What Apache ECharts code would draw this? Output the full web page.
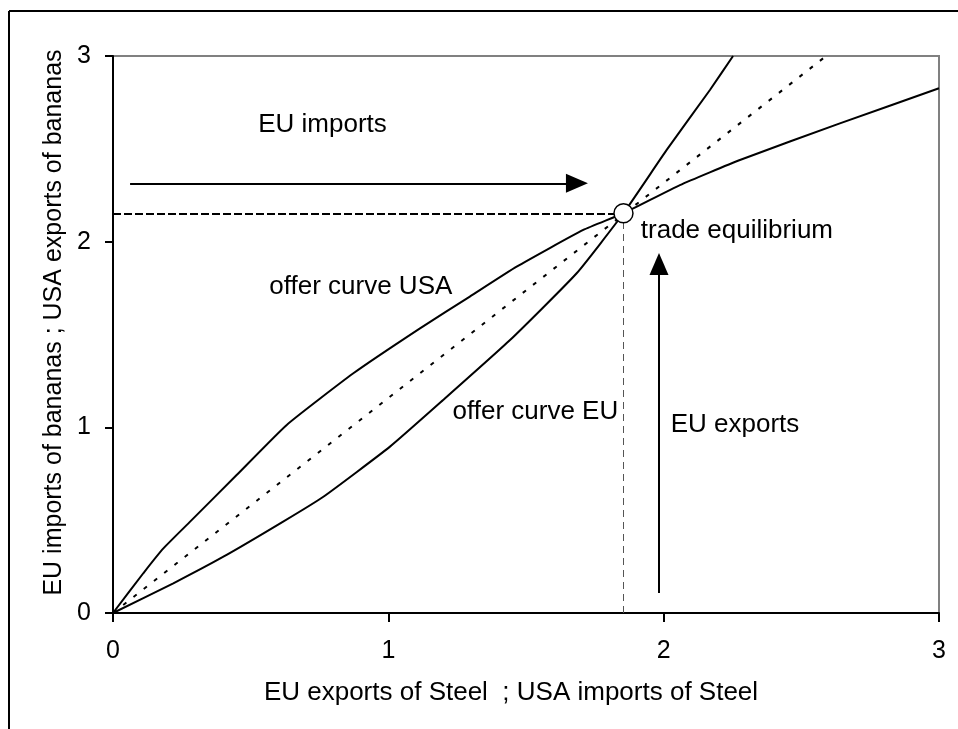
<!DOCTYPE html>
<html>
<head>
<meta charset="utf-8">
<script src="https://cdn.jsdelivr.net/npm/echarts@6/dist/echarts.min.js"></script>
<style>
  html, body { margin: 0; padding: 0; background: #fff; }
  #chart { width: 958px; height: 729px; }
</style>
</head>
<body>
<div id="chart"></div>
<script>
// offer curves (x = steel, y = bananas)
var usaX = [0, 0.110, 0.183, 0.280, 0.449, 0.631, 0.873, 1.115, 1.296, 1.466, 1.708, 1.854, 2.059, 2.277, 2.640, 3.0];
var usaY = [0, 0.214, 0.348, 0.492, 0.743, 1.013, 1.291, 1.533, 1.704, 1.865, 2.063, 2.153, 2.305, 2.440, 2.637, 2.826];

var euX = [0, 0.219, 0.401, 0.618, 0.764, 1.006, 1.199, 1.442, 1.684, 1.854, 2.011, 2.168, 2.252];
var euY = [0, 0.160, 0.303, 0.492, 0.626, 0.896, 1.147, 1.470, 1.830, 2.153, 2.494, 2.817, 3.0];

// terms of trade line (dotted)
var diagX = [0, 2.59];
var diagY = [0, 3];

// trade equilibrium
var eqPoint = [1.854, 2.153];

var ticks = [0, 1, 2, 3];

// annotation texts and where they sit
var noteText = ["EU imports", "offer curve USA", "offer curve EU", "trade equilibrium", "EU exports"];
var noteX = [0.761, 0.900, 1.534, 2.266, 2.259];
var noteY = [2.628, 1.756, 1.083, 2.057, 1.013];

// arrows: [x1, y1, x2, y2]
var importsArrow = [0.062, 2.314, 1.685, 2.314];
var exportsArrow = [1.983, 0.108, 1.983, 1.880];

function pairs(xs, ys) {
  return xs.map(function (x, i) { return [x, ys[i]]; });
}

var font = "'Liberation Sans', Arial, sans-serif";
var chart = echarts.init(document.getElementById("chart"));

var option = {
  backgroundColor: "#fff",
  animation: false,
  grid: {
    left: 113, top: 56, right: 19, bottom: 116,
    show: true, borderColor: "#808080", borderWidth: 2
  },
  xAxis: {
    type: "value", min: ticks[0], max: ticks[ticks.length - 1], interval: 1,
    name: "EU exports of Steel  ; USA imports of Steel",
    nameLocation: "middle", nameGap: 67,
    nameTextStyle: { color: "#000", fontSize: 26, fontFamily: font, padding: [0, 30, 0, 0] },
    axisLine: { lineStyle: { color: "#000", width: 2 } },
    axisTick: { length: 9, lineStyle: { color: "#000", width: 2 } },
    axisLabel: { color: "#000", fontSize: 25, fontFamily: font, margin: 26 },
    splitLine: { show: false }
  },
  yAxis: {
    type: "value", min: ticks[0], max: ticks[ticks.length - 1], interval: 1,
    name: "EU imports of bananas ; USA exports of bananas",
    nameLocation: "middle", nameGap: 46,
    nameTextStyle: { color: "#000", fontSize: 25, fontFamily: font, padding: [0, 0, 0, 24] },
    axisLine: { lineStyle: { color: "#000", width: 2 } },
    axisTick: { length: 8, lineStyle: { color: "#000", width: 2 } },
    axisLabel: { color: "#000", fontSize: 25, fontFamily: font, margin: 22 },
    splitLine: { show: false }
  },
  graphic: [
    // outer frame (only top and left show in the picture)
    { type: "line", shape: { x1: 9, y1: 11, x2: 958, y2: 11 }, style: { stroke: "#000", lineWidth: 2 } },
    { type: "line", shape: { x1: 9, y1: 11, x2: 9, y2: 729 }, style: { stroke: "#000", lineWidth: 2 } }
  ],
  series: [
    {
      name: "guides", type: "line", data: [], silent: true,
      markLine: {
        silent: true, symbol: "none", animation: false,
        label: { show: false },
        data: [
          [{ coord: [0, eqPoint[1]], lineStyle: { color: "#000", width: 2, type: [8, 3] } },
           { coord: [eqPoint[0], eqPoint[1]] }],
          [{ coord: [eqPoint[0], 0], lineStyle: { color: "#555", width: 1, type: [7, 5] } },
           { coord: [eqPoint[0], eqPoint[1]] }]
        ]
      }
    },
    {
      name: "terms of trade", type: "line", data: pairs(diagX, diagY),
      showSymbol: false, lineStyle: { color: "#000", width: 2, type: [4, 9] }
    },
    {
      name: "offer curve USA", type: "line", data: pairs(usaX, usaY),
      showSymbol: false, smooth: 0.15, lineStyle: { color: "#000", width: 2 }
    },
    {
      name: "offer curve EU", type: "line", data: pairs(euX, euY),
      showSymbol: false, smooth: 0.15, lineStyle: { color: "#000", width: 2 }
    },
    {
      name: "arrows", type: "line", data: [], silent: true,
      markLine: {
        silent: true, animation: false,
        symbol: ["none", "triangle"], symbolSize: [19, 22],
        label: { show: false },
        lineStyle: { color: "#000", width: 2, type: "solid" },
        itemStyle: { color: "#000" },
        data: [
          [{ coord: [importsArrow[0], importsArrow[1]] }, { coord: [importsArrow[2], importsArrow[3]] }],
          [{ coord: [exportsArrow[0], exportsArrow[1]] }, { coord: [exportsArrow[2], exportsArrow[3]] }]
        ]
      }
    },
    {
      name: "equilibrium", type: "scatter", data: [eqPoint], z: 5,
      symbol: "circle", symbolSize: 19,
      itemStyle: { color: "#fff", borderColor: "#000", borderWidth: 1.5, opacity: 1 }
    },
    {
      name: "notes", type: "scatter", silent: true, symbolSize: 0,
      itemStyle: { opacity: 1 },
      data: noteText.map(function (t, i) { return { value: [noteX[i], noteY[i]], name: t }; }),
      label: {
        show: true, position: "inside", formatter: "{b}", opacity: 1,
        color: "#000", fontSize: 26, fontFamily: font, textBorderWidth: 0
      }
    }
  ]
};
chart.setOption(option);
</script>
</body>
</html>
